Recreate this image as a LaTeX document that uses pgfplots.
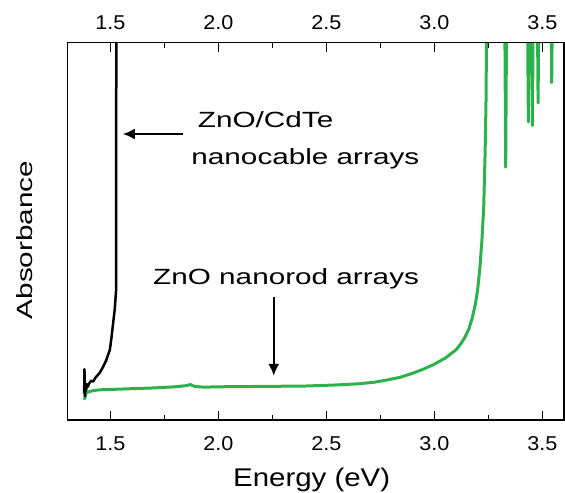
\documentclass[border=0pt]{standalone}
\usepackage{pgfplots}
\pgfplotsset{compat=1.18}
\usepackage{fontspec}
\setmainfont{Liberation Sans}[FakeStretch=1.08]
\newfontfamily\annfont{Liberation Sans}[FakeStretch=1.35]
\newfontfamily\labfont{Liberation Sans}[FakeStretch=1.15]
\usetikzlibrary{arrows.meta}
\definecolor{zgreen}{RGB}{44,178,76}
\pgfplotsset{myaxis/.style={
  width=496.7bp, height=377.3bp, scale only axis,
  xmin=1.3, xmax=3.6, ymin=0, ymax=100,
  xtick={1.5,2,2.5,3,3.5}, minor xtick={1.75,2.25,2.75,3.25},
  ytick=\empty, tick align=inside,
  major tick length=9bp, minor tick length=5.5bp,
  axis line style={line width=1.3bp},
  every tick/.style={black, line width=1bp},
  xticklabel={\pgfmathprintnumber[fixed,fixed zerofill,precision=1,assume math mode=true]{\tick}},
}}
\pgfplotstableread{
x y
1.378 6.0
1.381 5.6
1.385 6.8
1.39 7.2
1.40 7.5
1.42 7.8
1.45 8.0
1.50 8.1
1.60 8.3
1.70 8.5
1.80 8.8
1.85 9.1
1.87 9.4
1.89 8.9
1.93 8.7
2.00 8.8
2.20 8.9
2.40 9.0
2.55 9.3
2.65 9.6
2.72 10.0
2.78 10.6
2.84 11.3
2.90 12.4
2.95 13.5
3.00 14.8
3.05 16.4
3.10 18.6
3.12 20.0
3.14 21.8
3.16 24.2
3.175 27.0
3.19 30.8
3.20 34.5
3.21 40
3.22 47.7
3.228 56
3.235 71.6
3.239 85
3.241 100
3.245 115
3.325 115
3.33 67
3.335 115
3.43 115
3.435 79
3.44 115
3.45 115
3.454 78
3.458 115
3.476 115
3.48 84
3.484 115
3.54 115
3.543 89.4
3.547 115
3.55 115
}\zno
\pgfplotstableread{
x y
1.378 7.0
1.3795 13.5
1.381 6.3
1.384 9.0
1.387 7.8
1.39 9.5
1.395 8.8
1.40 9.6
1.41 10.4
1.42 10.2
1.43 11.2
1.45 12.5
1.465 14.0
1.48 15.8
1.497 18.6
1.505 22
1.512 25.6
1.52 29.5
1.526 34.5
1.527 115
}\cdte
\begin{document}
\begin{tikzpicture}
\begin{axis}[myaxis, name=ax, xtick pos=both, xticklabel pos=lower,
  xticklabel style={font=\fontsize{20bp}{24bp}\selectfont, anchor=base, yshift=-30bp, inner sep=0pt}]
\addplot[zgreen, line width=3bp, line join=round] table {\zno};
\addplot[black, line width=2.5bp, line join=round] table {\cdte};
\draw[line width=2bp, -{Latex[length=12bp,width=11bp]}] (axis cs:1.836,75.8) -- (axis cs:1.557,75.8);
\draw[line width=2bp, -{Latex[length=12bp,width=11bp]}] (axis cs:2.256,32.7) -- (axis cs:2.256,11.7);
\node[anchor=base west, inner sep=0pt, font=\annfont\fontsize{22bp}{26bp}\selectfont] at (axis cs:1.904,77.4) {ZnO/CdTe};
\node[anchor=base west, inner sep=0pt, font=\annfont\fontsize{22bp}{26bp}\selectfont] at (axis cs:1.874,67.6) {nanocable arrays};
\node[anchor=base west, inner sep=0pt, font=\annfont\fontsize{22bp}{26bp}\selectfont] at (axis cs:1.697,35.8) {ZnO nanorod arrays};
\coordinate (yl) at (rel axis cs:0,0.477);
\coordinate (xl) at (rel axis cs:0.492,0);
\end{axis}
\begin{axis}[myaxis, xtick pos=upper, xticklabel pos=upper,
  xticklabel style={font=\fontsize{20bp}{24bp}\selectfont, anchor=base, yshift=13.4bp, inner sep=0pt}]
\end{axis}
\node[rotate=90, anchor=south, inner sep=0pt, font=\annfont\fontsize{22bp}{26bp}\selectfont] at ([xshift=-34bp]yl) {Absorbance};
\node[anchor=base, inner sep=0pt, font=\labfont\fontsize{25.6bp}{30bp}\selectfont] at ([yshift=-66.7bp]xl) {Energy (eV)};
\path (ax.south west) ++(-67.3bp,-73bp) rectangle ([shift={(1bp,42.7bp)}]ax.north east);
\end{tikzpicture}
\end{document}
